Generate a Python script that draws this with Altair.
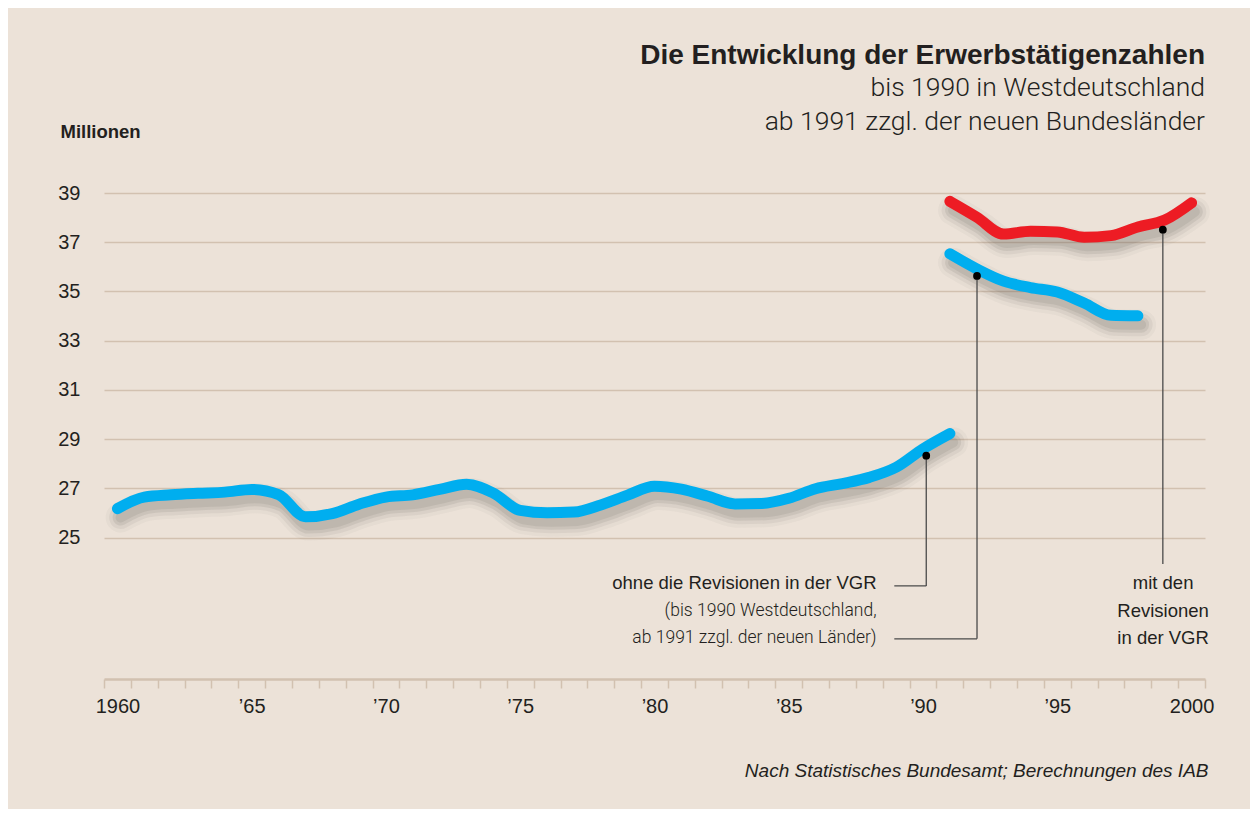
import altair as alt
import pandas as pd

# ---------------- data ----------------
west_years = list(range(1960, 1992))
west_values = [26.18, 26.65, 26.74, 26.80, 26.85, 26.96, 26.75, 25.85, 25.98, 26.36,
               26.65, 26.74, 26.96, 27.17, 26.81, 26.11, 26.01, 26.04, 26.33, 26.73,
               27.09, 26.97, 26.68, 26.37, 26.39, 26.60, 26.99, 27.20, 27.45, 27.86,
               28.61, 29.23]

revised_years = list(range(1991, 2001))
revised_values = [38.66, 38.02, 37.33, 37.45, 37.42, 37.20, 37.27, 37.62, 37.90, 38.60]

unrevised_years = list(range(1991, 1999))
unrevised_values = [36.53, 35.92, 35.42, 35.16, 34.98, 34.53, 34.03, 34.01]

dot_x = [1990.62, 1992.51, 1999.43]
dot_y = [28.33, 35.63, 37.51]

leader_x = [1990.62, 1990.62, 1992.51, 1992.51, 1999.43]
leader_x2 = [1990.62, 1989.43, 1992.51, 1989.43, 1999.43]
leader_y = [28.33, 23.04, 35.63, 20.89, 37.51]
leader_y2 = [23.04, 23.04, 20.89, 20.89, 23.93]

note_left_main = ["ohne die Revisionen in der VGR"]
note_left_sub = ["(bis 1990 Westdeutschland,", "ab 1991 zzgl. der neuen Länder)"]
note_right = ["mit den", "Revisionen", "in der VGR"]
note_x_left = 1988.77
note_x_right = 1999.44
note_rows_y = [23.15, 22.02, 20.93]

y_ticks = [25, 27, 29, 31, 33, 35, 37, 39]
x_ticks = list(range(1960, 2002))

title_text = "Die Entwicklung der Erwerbstätigenzahlen"
subtitle_text = ["bis 1990 in Westdeutschland", "ab 1991 zzgl. der neuen Bundesländer"]
source_text = "Nach Statistisches Bundesamt; Berechnungen des IAB"
unit_text = "Millionen"

# ---------------- styles ----------------
BG = "#ece2d8"
GRID = "#d2c1b0"
INK = "#231f20"
BLUE = "#00aeef"
RED = "#ed1c24"
SANS = "Liberation Sans, Arial, sans-serif"
LIGHT = "Roboto, Liberation Sans, sans-serif"

rows = []
for yr, v in zip(west_years, west_values):
    rows.append({"year": yr, "value": v, "series": "west"})
for yr, v in zip(unrevised_years, unrevised_values):
    rows.append({"year": yr, "value": v, "series": "unrevised"})
for yr, v in zip(revised_years, revised_values):
    rows.append({"year": yr, "value": v, "series": "revised"})
df = pd.DataFrame(rows)

dots = pd.DataFrame({"x": dot_x, "y": dot_y})
leaders = pd.DataFrame({"x": leader_x, "x2": leader_x2, "y": leader_y, "y2": leader_y2})
notes_main = pd.DataFrame({"t": note_left_main, "x": [note_x_left], "y": note_rows_y[:1]})
notes_sub = pd.DataFrame({"t": note_left_sub, "x": [note_x_left] * 2, "y": note_rows_y[1:]})
notes_r = pd.DataFrame({"t": note_right, "x": [note_x_right] * 3, "y": note_rows_y})

xscale = alt.Scale(domain=[1960, 2001], nice=False, zero=False)
yscale = alt.Scale(domain=[19.26, 39], nice=False, zero=False)

label_expr = ("datum.value % 5 == 0 && datum.value <= 2000 ? "
              "((datum.value == 1960 || datum.value == 2000) ? '' + datum.value : "
              "'\u2019' + substring('' + datum.value, 2, 4)) : ''")

x_axis = alt.Axis(values=x_ticks, labelExpr=label_expr, labelOffset=13.4, labelFlush=False,
                  labelOverlap=False, labelBound=False, grid=False,
                  tickSize=9, tickColor=GRID, tickWidth=1.5, domainColor=GRID, domainWidth=2.5,
                  labelFont=SANS, labelFontSize=20, labelColor=INK, labelPadding=8,
                  title=source_text, titleFont=SANS, titleFontStyle="italic",
                  titleFontWeight="normal", titleFontSize=19, titleColor=INK,
                  titleAnchor="end", titleAlign="right", titleBaseline="middle",
                  titleX=1104, titleY=91)

y_axis = alt.Axis(values=y_ticks, grid=True, gridColor=GRID, gridWidth=1.5, domain=False,
                  ticks=False, labelFont=SANS, labelFontSize=20, labelColor=INK,
                  labelPadding=24, labelBaseline="middle",
                  title=unit_text, titleAngle=0, titleX=-44, titleY=-62, titleAlign="left",
                  titleBaseline="middle", titleFont=SANS, titleFontWeight="bold",
                  titleFontSize=18.5, titleColor=INK)


def xe(field):
    return alt.X(field, scale=xscale, axis=x_axis)


def ye(field):
    return alt.Y(field, scale=yscale, axis=y_axis)


base = alt.Chart(df).transform_calculate(pos="datum.year + 0.5")

shadows = []
for w, op in [(30, 0.04), (23, 0.07), (16, 0.10), (10, 0.10)]:
    shadows.append(
        base.transform_calculate(sx="datum.pos + 0.12", sy="datum.value - 0.36")
        .mark_line(strokeWidth=w, opacity=op, color="#4f4a46", strokeCap="round",
                   strokeJoin="round", interpolate="monotone")
        .encode(x=xe("sx:Q"), y=ye("sy:Q"), detail="series:N")
    )

lines = base.mark_line(strokeWidth=11, strokeCap="round", strokeJoin="round",
                       interpolate="monotone").encode(
    x=xe("pos:Q"),
    y=ye("value:Q"),
    color=alt.Color("series:N", scale=alt.Scale(domain=["west", "unrevised", "revised"],
                                                  range=[BLUE, BLUE, RED]), legend=None),
)

rules = alt.Chart(leaders).mark_rule(color="#4a4a4a", strokeWidth=1.3).encode(
    x=xe("x:Q"), x2="x2:Q", y=ye("y:Q"), y2="y2:Q")

points = alt.Chart(dots).mark_circle(size=60, color="#000000", opacity=1).encode(
    x=xe("x:Q"), y=ye("y:Q"))

t_main = alt.Chart(notes_main).mark_text(align="right", baseline="middle", font=SANS,
                                         fontSize=18.5, color=INK).encode(
    x=xe("x:Q"), y=ye("y:Q"), text="t:N")
t_sub = alt.Chart(notes_sub).mark_text(align="right", baseline="middle", font=LIGHT,
                                       fontWeight=300, fontSize=17.5, color=INK).encode(
    x=xe("x:Q"), y=ye("y:Q"), text="t:N")
t_right = alt.Chart(notes_r).mark_text(align="center", baseline="middle", font=SANS,
                                       fontSize=18.5, color=INK).encode(
    x=xe("x:Q"), y=ye("y:Q"), text="t:N")

chart = alt.layer(*shadows, lines, rules, points, t_main, t_sub, t_right).properties(
    width=1101, height=486,
    padding={"left": 96, "top": 185, "right": 45, "bottom": 130},
    autosize=alt.AutoSizeParams(type="none"),
    title=alt.TitleParams(text=title_text, subtitle=subtitle_text, anchor="end", orient="top",
                          frame="group", font=SANS, fontSize=28, fontWeight="bold", color=INK,
                          subtitleFont=LIGHT, subtitleFontWeight=300, subtitleFontSize=26.5,
                          subtitleColor=INK, subtitleLineHeight=34, subtitlePadding=5,
                          offset=-13),
).configure(background=BG).configure_view(stroke=None)

chart.save("out.html", embed_options={"renderer": "svg", "actions": False})
